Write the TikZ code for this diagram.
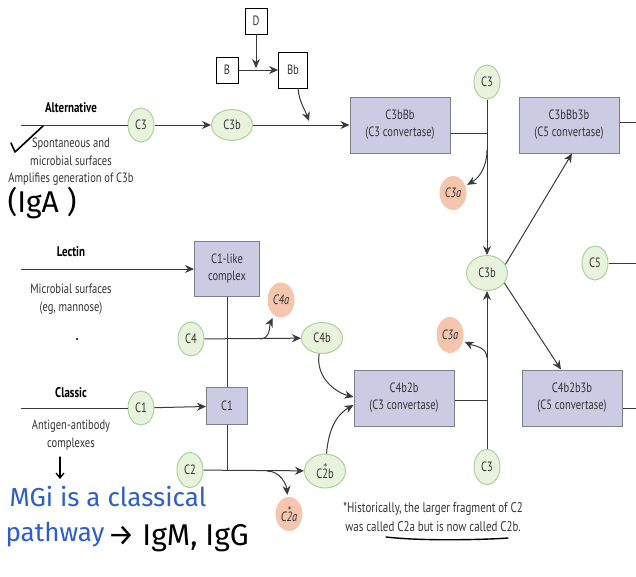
\documentclass[tikz,border=0pt]{standalone}
\usepackage{fontspec}
\setmainfont{PT Sans}[FakeStretch=0.78]
\newfontfamily\handfont{Fira Sans}
\newfontfamily\symfont{DejaVu Sans}
\usetikzlibrary{arrows.meta,shapes.geometric}

\definecolor{boxfill}{HTML}{CBCCE3}
\definecolor{boxline}{HTML}{7D7E8E}
\definecolor{greenfill}{HTML}{E8F2DC}
\definecolor{greenline}{HTML}{A9D39A}
\definecolor{redfill}{HTML}{F5C5AD}
\definecolor{wire}{HTML}{3A3A3A}
\definecolor{txt}{HTML}{333333}
\definecolor{pen}{HTML}{2D5ECB}

% star set just above a digit, as in the renamed C2 fragments
\newcommand{\stardigit}[1]{\makebox[0pt][l]{\hspace{0.08em}\raisebox{0.62em}{\symfont\fontsize{8}{8}\selectfont\upshape *}}#1}

\begin{document}
\begin{tikzpicture}[x=1pt,y=-1pt,
  every node/.style={text=txt, font=\fontsize{13.5}{17}\selectfont},
  conv/.style={rectangle, draw=boxline, fill=boxfill, line width=1pt,
    minimum width=100pt, minimum height=56pt, align=center, inner sep=0pt},
  frag/.style={ellipse, draw=greenline, fill=greenfill, line width=1pt,
    inner sep=0pt, minimum width=26pt, minimum height=34pt},
  cleaved/.style={ellipse, fill=redfill, inner sep=0pt,
    minimum width=27pt, minimum height=34pt, font=\fontsize{13.5}{17}\selectfont\itshape},
  factor/.style={rectangle, draw=black, fill=white, line width=0.8pt, inner sep=0pt},
  pathway/.style={font=\fontsize{14}{17}\selectfont\bfseries, text=black},
  desc/.style={align=center, font=\fontsize{13.5}{17.5}\selectfont},
  link/.style={draw=wire, line width=1pt},
  flow/.style={draw=wire, line width=1pt, -{Stealth[length=9pt,width=8pt]}},
  hand/.style={font=\fontsize{26}{28}\selectfont\handfont},
  ink/.style={line width=1.6pt, line cap=round, line join=round}
]
\useasboundingbox (0,0) rectangle (636,576);

% ---------- factors B, D, Bb ----------
\node[factor, minimum width=22pt, minimum height=26pt] (D) at (256,21) {D};
\node[factor, minimum width=22pt, minimum height=26pt] (B) at (227,70) {B};
\node[factor, minimum width=29pt, minimum height=36pt] (Bb) at (293,70) {Bb};
\coordinate (Dj) at (256,68);
\draw[flow] (B) -- (Bb);
\draw[flow] (D) -- (Dj);

% ---------- alternative pathway ----------
\node[pathway] (altlab) at (71,108) {Alternative};
\coordinate (altL) at (21,125);
\node[frag] (C3alt) at (141,125) {C3};
\node[frag, minimum width=41pt, minimum height=31pt] (C3balt) at (232,125) {C3b};
\node[conv] (C3bBb) at (400,125) {C3bBb\\(C3 convertase)};
\draw[link] (altL) -- (C3alt);
\draw[flow] (C3alt) -- (C3balt);
\draw[flow] (C3balt) -- (C3bBb);
\coordinate (bbj) at (309,121);
\draw[flow] ([xshift=5pt]Bb.south) to[out=-85, in=110] (bbj);
\node[desc] (altdesc) at (71,162) {Spontaneous and\\microbial surfaces\\Amplifies generation of C3b};

% ---------- C3 cleavage by C3bBb ----------
\node[frag] (C3top) at (487,82) {C3};
\node[frag, minimum width=41pt, minimum height=35pt] (C3bmid) at (487,273) {C3b};
\coordinate (j1) at (487,133);
\draw[link] ([yshift=-8pt]C3bBb.east) -- (j1);
\draw[flow] (C3top) -- (C3bmid);
\node[cleaved] (C3a1) at (453,193) {C3a};
\coordinate (s1) at (487,150);
\draw[flow, shorten >=2pt] (s1) to[out=-90, in=30] (C3a1);

% ---------- C5 convertases ----------
\node[conv] (C3bBb3b) at (569,125) {C3bBb3b\\(C5 convertase)};
\node[conv] (C4b2b3b) at (572,398) {C4b2b3b\\(C5 convertase)};
\coordinate (rt1) at (636,122);
\coordinate (rt2) at (636,263);
\coordinate (rt3) at (636,408);
\draw[link] ([yshift=3pt]C3bBb3b.east) -- (rt1);
\draw[link] ([yshift=-10pt]C4b2b3b.east) -- (rt3);
\draw[flow] (C3bmid.25) -- ([xshift=3pt]C3bBb3b.south);
\draw[flow] (C3bmid.-30) -- ([xshift=-11pt]C4b2b3b.north);
\node[frag] (C5) at (595,263) {C5};
\draw[link] (C5) -- (rt2);

% ---------- C4b2b and C3 cleavage ----------
\node[conv] (C4b2b) at (404,398) {C4b2b\\(C3 convertase)};
\coordinate (j2) at (487,400);
\draw[link] ([yshift=-2pt]C4b2b.east) -- (j2);
\node[frag, minimum height=35pt] (C3bot) at (487,467) {C3};
\draw[flow] (C3bot) -- (C3bmid);
\node[cleaved, minimum height=36pt] (C3a2) at (450,335) {C3a};
\coordinate (s2) at (487,358);
\draw[flow, shorten >=2pt] (s2) to[out=90, in=-25] (C3a2);

% ---------- lectin pathway ----------
\node[pathway] (leclab) at (71,252) {Lectin};
\coordinate (lecL) at (21,269);
\node[conv, minimum width=65pt, minimum height=55pt] (C1like) at (227,269) {C1-like\\complex};
\draw[flow] (lecL) -- (C1like);
\node[desc] (lecdesc) at (71,299) {Microbial surfaces\\(eg, mannose)};
\node[circle, fill=black, inner sep=0pt, minimum size=2.2pt] (dot) at (77,339) {};

% ---------- classic pathway ----------
\node[pathway] (clalab) at (71,393) {Classic};
\coordinate (claL) at (21,408);
\node[frag] (C1) at (141,408) {C1};
\node[conv, minimum width=41pt, minimum height=37pt] (C1box) at (227,406) {C1};
\draw[link] (claL) -- (C1);
\draw[flow] (C1) -- (C1box);
\draw[link] (C1like) -- (C1box);
\node[desc] (cladesc) at (71,435) {Antigen-antibody\\complexes};

% ---------- C4 cleavage ----------
\node[frag] (C4) at (191,339) {C4};
\node[frag, minimum width=41pt, minimum height=31pt] (C4b) at (322,338) {C4b};
\node[cleaved, minimum height=35pt] (C4a) at (281,300) {C4a};
\draw[flow] (C4) -- (C4b);
\coordinate (s3) at (260,339);
\draw[flow, shorten >=3pt] (s3) to[out=0, in=-115] (C4a);

% ---------- C2 cleavage ----------
\coordinate (j3) at (227,471);
\draw[link] (C1box) -- (j3);
\node[frag, minimum height=35pt] (C2) at (190,470) {C2};
\node[frag, minimum width=41pt, minimum height=34pt] (C2b) at (325,471) {C\stardigit{2}b};
\node[cleaved] (C2a) at (289,514) {C\stardigit{2}a};
\draw[flow] (C2) -- (C2b);
\coordinate (s4) at (267,471);
\draw[flow, shorten >=2pt] (s4) to[out=0, in=95] (C2a);

% ---------- into C4b2b ----------
\draw[flow] (C4b) to[out=-100, in=165] ([yshift=1pt]C4b2b.west);
\draw[flow] (C2b) to[out=85, in=-150] ([yshift=-7pt]C4b2b.west);

% ---------- footnote ----------
\node[desc, font=\fontsize{14}{19}\selectfont] (note) at (433,517)
  {*Historically, the larger fragment of C2\\was called C2a but is now called C2b.};

% ---------- pen notes ----------
\draw[ink, line width=1.4pt] (386,537) .. controls (420,541) and (480,540) .. (508,538);
\draw[ink] (11,143) -- (15,152) -- (43,126);
\node[hand, text=black, anchor=west, font=\fontsize{30}{32}\selectfont\handfont] (iga) at (4,203) {(IgA )};
\coordinate (pa) at (60,457);
\coordinate (pb) at (60,479);
\draw[ink, line width=1.3pt, -{Straight Barb[length=5pt,width=8pt]}] (pa) -- (pb);
\node[hand, text=pen, anchor=west] (mgi) at (6,497) {MGi is a classical};
\node[hand, text=pen, anchor=west] (pw) at (2,535) {pathway};
\node[hand, text=black, anchor=west, font=\fontsize{30}{32}\selectfont\handfont] (ig) at (104,538) {→ IgM, IgG};
\end{tikzpicture}
\end{document}
